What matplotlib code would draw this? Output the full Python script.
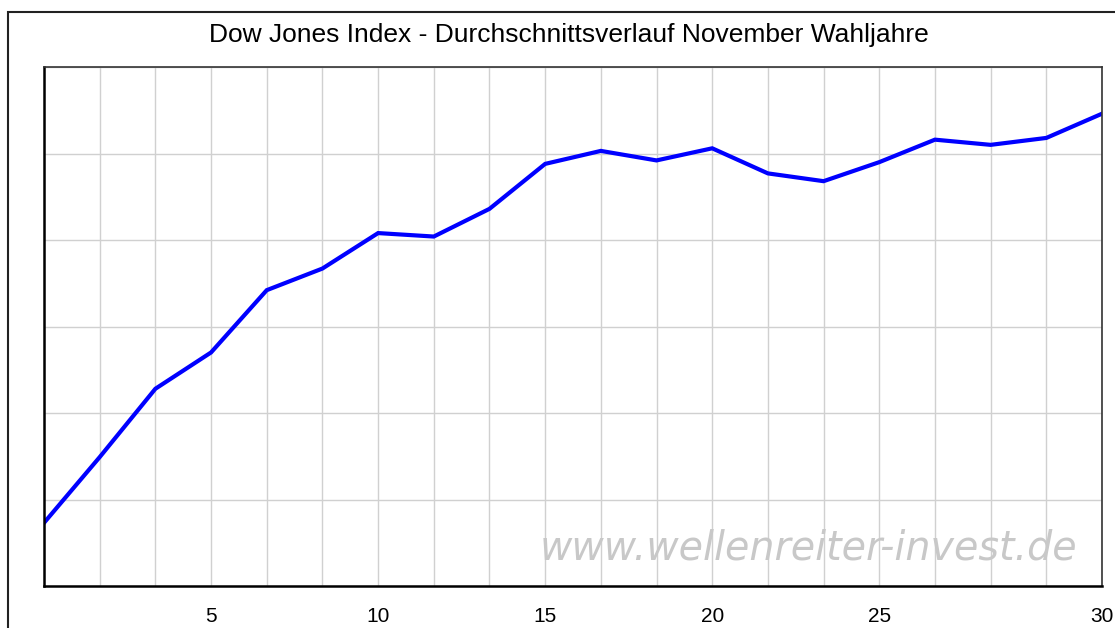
import matplotlib.pyplot as plt
from matplotlib.patches import Rectangle

# November trading days (only multiples of 5 get a label)
days = [1, 2, 3, 5, 6, 8, 10, 11, 13, 15, 16, 18, 20, 21, 23, 25, 26, 27, 29, 30]
# average course, arbitrary units
avg_course = [0.73, 1.49, 2.28, 2.70, 3.42, 3.67, 4.08, 4.04, 4.36, 4.88,
              5.03, 4.92, 5.06, 4.77, 4.68, 4.90, 5.16, 5.10, 5.18, 5.46]

plt.rcParams['font.family'] = ['Liberation Sans', 'DejaVu Sans']

fig = plt.figure(figsize=(11.15, 6.28), dpi=100)
ax = fig.add_axes([44 / 1115, 42 / 628, 1058 / 1115, 519 / 628])

# outer frame, cut off at right and bottom like the original
fig.patches.append(Rectangle((8 / 1115, -0.1), 1.2, (628 - 12) / 628 + 0.1,
                             transform=fig.transFigure, fill=False,
                             edgecolor='#222222', linewidth=1.5))

pos = list(range(len(days)))
ax.plot(pos, avg_course, color='#0000ff', linewidth=3, solid_joinstyle='miter')

ax.set_xlim(0, len(days) - 1)
ax.set_ylim(0, 6)
ax.set_xticks(pos)
ax.set_xticklabels([str(d) if d % 5 == 0 else '' for d in days], fontsize=15)
ax.set_yticks(range(7))
ax.set_yticklabels([])
ax.tick_params(length=0, pad=15)
ax.grid(True, color='#d0d0d0', linewidth=1)
ax.set_axisbelow(True)

for side in ['left', 'bottom']:
    ax.spines[side].set_linewidth(1.8)
    ax.spines[side].set_color('black')
for side in ['top', 'right']:
    ax.spines[side].set_linewidth(1.2)
    ax.spines[side].set_color('#333333')

fig.text(569 / 1115, 1 - 35 / 628, 'Dow Jones Index - Durchschnittsverlauf November Wahljahre',
         ha='center', va='center', fontsize=19)

ax.text((1077 - 44) / 1058, 0.073, 'www.wellenreiter-invest.de',
        transform=ax.transAxes, ha='right', va='center', fontsize=28.5,
        family='DejaVu Sans', style='italic', color='#c8c8c8')

fig.savefig('out.png', dpi=100)
